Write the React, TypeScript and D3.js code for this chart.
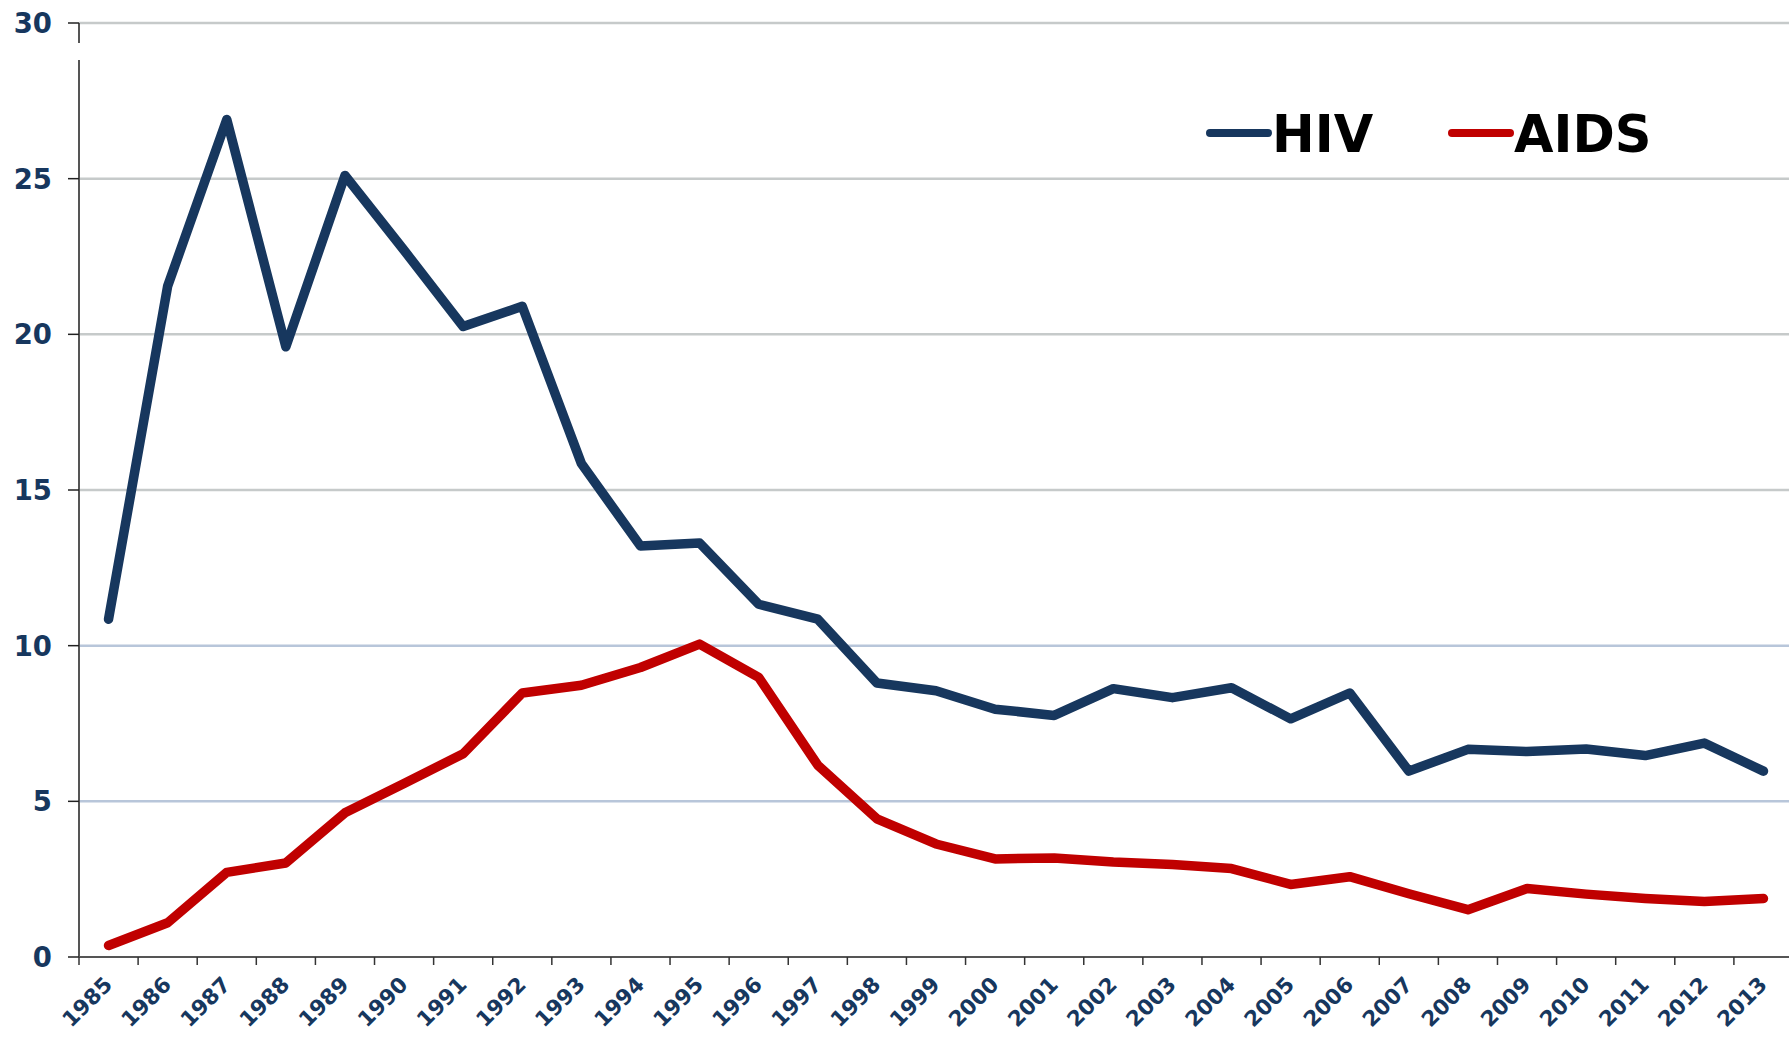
import React, { useRef, useEffect } from 'react';
import * as d3 from 'd3';

const years = [
  '1985', '1986', '1987', '1988', '1989', '1990', '1991', '1992', '1993', '1994',
  '1995', '1996', '1997', '1998', '1999', '2000', '2001', '2002', '2003', '2004',
  '2005', '2006', '2007', '2008', '2009', '2010', '2011', '2012', '2013',
];

const hivValues = [
  10.85, 21.55, 26.9, 19.6, 25.1, 22.7, 20.25, 20.9, 15.85, 13.2,
  13.3, 11.33, 10.85, 8.8, 8.55, 7.96, 7.76, 8.62, 8.33, 8.65,
  7.65, 8.48, 5.97, 6.67, 6.6, 6.68, 6.47, 6.87, 5.97,
];

const aidsValues = [
  0.37, 1.1, 2.72, 3.02, 4.63, 5.57, 6.53, 8.48, 8.73, 9.3,
  10.05, 8.98, 6.16, 4.44, 3.63, 3.15, 3.18, 3.05, 2.97, 2.84,
  2.33, 2.58, 2.03, 1.52, 2.2, 2.02, 1.88, 1.78, 1.88,
];

const yTicks = [0, 5, 10, 15, 20, 25, 30];

const series = [
  { name: 'HIV', values: hivValues, color: '#17375e' },
  { name: 'AIDS', values: aidsValues, color: '#c00000' },
];

const W = 1789;
const H = 1038;
const labelFont = '"DejaVu Sans", Verdana, sans-serif';
const navy = '#17375e';

const App = () => {
  const svgRef = useRef<SVGSVGElement>(null);

  useEffect(() => {
    const svg = d3.select(svgRef.current);
    svg.selectAll('*').remove();

    const x = d3.scaleBand().domain(years).range([79, 1793]).padding(0);
    const y = d3.scaleLinear().domain([0, 30]).range([957, 23]);
    const cx = (d: string) => (x(d) as number) + x.bandwidth() / 2;

    // gridlines
    svg.append('g')
      .selectAll('line')
      .data(yTicks.filter(d => d > 0))
      .join('line')
      .attr('x1', 79)
      .attr('x2', W)
      .attr('y1', d => y(d))
      .attr('y2', d => y(d))
      .attr('stroke', d => (d <= 10 ? '#b8c6da' : '#c6caca'))
      .attr('stroke-width', 2.5);

    // y axis
    const yAxis = svg.append('g');
    yAxis.append('line')
      .attr('x1', 79).attr('x2', 79)
      .attr('y1', y(30)).attr('y2', y(0))
      .attr('stroke', '#555')
      .attr('stroke-width', 2)
      .attr('stroke-dasharray', '20,17,2000');
    yAxis.selectAll('line.tick')
      .data(yTicks)
      .join('line')
      .attr('class', 'tick')
      .attr('x1', 68).attr('x2', 79)
      .attr('y1', d => y(d)).attr('y2', d => y(d))
      .attr('stroke', '#222')
      .attr('stroke-width', 1.5);
    yAxis.selectAll('text')
      .data(yTicks)
      .join('text')
      .attr('x', 52)
      .attr('y', d => y(d))
      .attr('dy', '0.36em')
      .attr('text-anchor', 'end')
      .attr('font-family', labelFont)
      .attr('font-weight', 'bold')
      .attr('font-size', 27.5)
      .attr('fill', navy)
      .text(d => d);

    // x axis
    const xAxis = svg.append('g');
    xAxis.append('line')
      .attr('x1', 79).attr('x2', W)
      .attr('y1', y(0)).attr('y2', y(0))
      .attr('stroke', '#555')
      .attr('stroke-width', 2);
    const bounds = years.map(d => x(d) as number);
    xAxis.selectAll('line.tick')
      .data(bounds)
      .join('line')
      .attr('class', 'tick')
      .attr('x1', d => d).attr('x2', d => d)
      .attr('y1', y(0)).attr('y2', y(0) + 8)
      .attr('stroke', '#333')
      .attr('stroke-width', 1.5);
    xAxis.selectAll('text')
      .data(years)
      .join('text')
      .attr('transform', d => `translate(${cx(d) + 5}, 986) rotate(-45)`)
      .attr('text-anchor', 'end')
      .attr('font-family', labelFont)
      .attr('font-weight', 'bold')
      .attr('font-size', 21.5)
      .attr('fill', navy)
      .text(d => d);

    // lines
    const line = d3.line<number>()
      .x((_, i) => cx(years[i]))
      .y(d => y(d));

    svg.append('g')
      .selectAll('path')
      .data(series)
      .join('path')
      .attr('fill', 'none')
      .attr('stroke', d => d.color)
      .attr('stroke-width', 9.5)
      .attr('stroke-linejoin', 'round')
      .attr('stroke-linecap', 'round')
      .attr('d', d => line(d.values));

    // legend
    const legendX = [1210, 1452];
    const legend = svg.append('g')
      .selectAll('g')
      .data(series)
      .join('g')
      .attr('transform', (_, i) => `translate(${legendX[i]}, 133)`);
    legend.append('line')
      .attr('x1', 0).attr('x2', 58)
      .attr('y1', 0).attr('y2', 0)
      .attr('stroke', d => d.color)
      .attr('stroke-width', 8)
      .attr('stroke-linecap', 'round');
    legend.append('text')
      .attr('x', 62)
      .attr('y', 19)
      .attr('font-family', labelFont)
      .attr('font-weight', 'bold')
      .attr('font-size', 51)
      .attr('fill', '#000')
      .text(d => d.name);
  }, []);

  return (
    <svg
      ref={svgRef}
      width={W}
      height={H}
      style={{ position: 'absolute', left: 0, top: 0, background: '#fff' }}
    />
  );
};

export default App;
